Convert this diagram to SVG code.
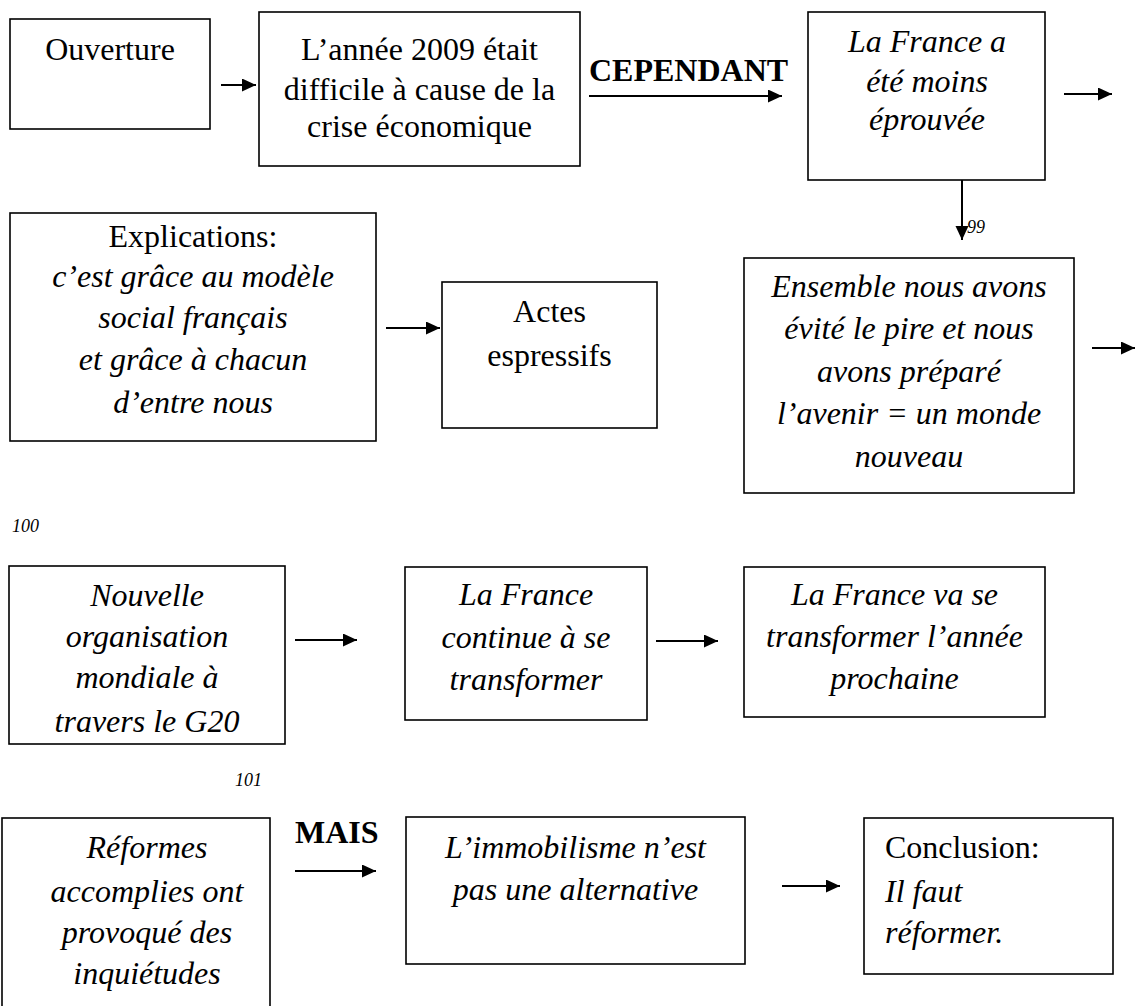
<svg xmlns="http://www.w3.org/2000/svg" width="1136" height="1006" viewBox="0 0 1136 1006">
<style>
.box{fill:#fff;stroke:#000;stroke-width:1.6}
.t{font-family:"Liberation Serif","Times New Roman",serif;font-size:32px;fill:#000;text-anchor:middle}
.i{font-style:italic}
.b{font-weight:bold}
.l{text-anchor:start}
.pg{font-family:"Liberation Serif","Times New Roman",serif;font-size:18px;font-style:italic;fill:#000}
.c{stroke:#000;stroke-width:2;fill:none;marker-end:url(#ah)}
</style>
<defs>
<marker id="ah" markerUnits="userSpaceOnUse" markerWidth="15" markerHeight="14" refX="14" refY="6.5" orient="auto">
<path d="M0,0 L14,6.5 L0,13 z" fill="#000"/>
</marker>
</defs>
<rect width="1136" height="1006" fill="#fff"/>
<g id="connectors">
<line class="c" x1="221" y1="85" x2="256" y2="85"/>
<line class="c" x1="589" y1="96" x2="782" y2="96"/>
<line class="c" x1="1064" y1="94" x2="1112" y2="94"/>
<line class="c" x1="962" y1="180" x2="962" y2="240"/>
<line class="c" x1="386" y1="328" x2="440" y2="328"/>
<line class="c" x1="1092" y1="348" x2="1135" y2="348"/>
<line class="c" x1="295" y1="640" x2="357" y2="640"/>
<line class="c" x1="656" y1="641" x2="718" y2="641"/>
<line class="c" x1="295" y1="871" x2="376" y2="871"/>
<line class="c" x1="782" y1="886" x2="840" y2="886"/>
<text class="t b l" x="589" y="81">CEPENDANT</text>
<text class="t b l" x="295" y="843">MAIS</text>
<text class="pg" x="967" y="233">99</text>
</g>
<text class="pg" x="12" y="532">100</text>
<text class="pg" x="235" y="786">101</text>
<g id="n1">
<rect class="box" x="10" y="19" width="200" height="110"/>
<text class="t" x="110" y="60">Ouverture</text>
</g>
<g id="n2">
<rect class="box" x="259" y="12" width="321" height="154"/>
<text class="t" x="419.5" y="60">L’année 2009 était</text>
<text class="t" x="419.5" y="100">difficile à cause de la</text>
<text class="t" x="419.5" y="137">crise économique</text>
</g>
<g id="n3">
<rect class="box" x="808" y="12" width="237" height="168"/>
<text class="t i" x="927" y="52">La France a</text>
<text class="t i" x="927" y="92">été moins</text>
<text class="t i" x="927" y="130">éprouvée</text>
</g>
<g id="n4">
<rect class="box" x="10" y="213" width="366" height="228"/>
<text class="t" x="193" y="247">Explications:</text>
<text class="t i" x="193" y="287">c’est grâce au modèle</text>
<text class="t i" x="193" y="328">social français</text>
<text class="t i" x="193" y="370">et grâce à chacun</text>
<text class="t i" x="193" y="413">d’entre nous</text>
</g>
<g id="n5">
<rect class="box" x="442" y="282" width="215" height="146"/>
<text class="t" x="549.5" y="322">Actes</text>
<text class="t" x="549.5" y="366">espressifs</text>
</g>
<g id="n6">
<rect class="box" x="744" y="258" width="330" height="235"/>
<text class="t i" x="909" y="297">Ensemble nous avons</text>
<text class="t i" x="909" y="339">évité le pire et nous</text>
<text class="t i" x="909" y="382">avons préparé</text>
<text class="t i" x="909" y="424">l’avenir = un monde</text>
<text class="t i" x="909" y="467">nouveau</text>
</g>
<g id="n7">
<rect class="box" x="9" y="566" width="276" height="178"/>
<text class="t i" x="147" y="606">Nouvelle</text>
<text class="t i" x="147" y="647">organisation</text>
<text class="t i" x="147" y="688">mondiale à</text>
<text class="t i" x="147" y="732">travers le G20</text>
</g>
<g id="n8">
<rect class="box" x="405" y="567" width="242" height="153"/>
<text class="t i" x="526" y="605">La France</text>
<text class="t i" x="526" y="648">continue à se</text>
<text class="t i" x="526" y="690">transformer</text>
</g>
<g id="n9">
<rect class="box" x="744" y="567" width="301" height="150"/>
<text class="t i" x="894.5" y="605">La France va se</text>
<text class="t i" x="894.5" y="647">transformer l’année</text>
<text class="t i" x="894.5" y="689">prochaine</text>
</g>
<g id="n10">
<rect class="box" x="2" y="818" width="268" height="200"/>
<text class="t i" x="147" y="858">Réformes</text>
<text class="t i" x="147" y="902">accomplies ont</text>
<text class="t i" x="147" y="943">provoqué des</text>
<text class="t i" x="147" y="984">inquiétudes</text>
</g>
<g id="n11">
<rect class="box" x="406" y="817" width="339" height="147"/>
<text class="t i" x="575.5" y="858">L’immobilisme n’est</text>
<text class="t i" x="575.5" y="900">pas une alternative</text>
</g>
<g id="n12">
<rect class="box" x="864" y="818" width="249" height="156"/>
<text class="t l" x="885" y="858">Conclusion:</text>
<text class="t i l" x="885" y="902">Il faut</text>
<text class="t i l" x="885" y="943">réformer.</text>
</g>
</svg>
